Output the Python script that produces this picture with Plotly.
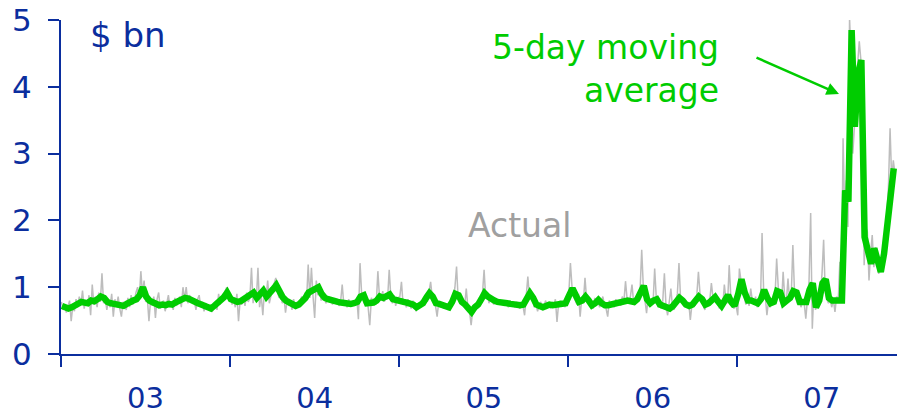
import pandas as pd
import plotly.graph_objects as go

# ---- data ($ bn) ----
years = [2003, 2004, 2005, 2006, 2007]
year_labels = ["03", "04", "05", "06", "07"]

# 5-day moving average, sampled weekly
ma_2003 = [0.72,0.70,0.68,0.70,0.72,0.75,0.78,0.77,0.76,0.80,0.79,0.82,0.86,0.84,0.78,0.76,0.75,0.74,0.73,0.72,0.75,0.79,0.80,0.82,0.88,1.00,0.86,0.80,0.77,0.74,0.73,0.74,0.73,0.75,0.74,0.77,0.79,0.82,0.84,0.83,0.80,0.78,0.76,0.74,0.72,0.70,0.68,0.72,0.76,0.80,0.85,0.92]
ma_2004 = [0.82,0.80,0.78,0.79,0.83,0.84,0.90,0.92,0.84,0.88,0.95,0.86,0.90,0.97,1.03,0.93,0.85,0.80,0.77,0.75,0.72,0.74,0.78,0.84,0.92,0.95,0.98,1.00,0.90,0.84,0.82,0.80,0.79,0.78,0.77,0.76,0.76,0.75,0.76,0.78,0.86,0.88,0.76,0.76,0.77,0.80,0.86,0.84,0.88,0.89,0.82,0.80]
ma_2005 = [0.80,0.78,0.77,0.76,0.74,0.70,0.74,0.76,0.84,0.91,0.86,0.76,0.75,0.74,0.72,0.70,0.78,0.90,0.88,0.78,0.74,0.68,0.63,0.70,0.74,0.82,0.91,0.86,0.82,0.80,0.78,0.78,0.76,0.76,0.75,0.74,0.75,0.73,0.74,0.82,0.91,0.84,0.74,0.72,0.70,0.72,0.74,0.73,0.74,0.75,0.74,0.76]
ma_2006 = [0.88,0.98,0.88,0.78,0.80,0.86,0.80,0.73,0.76,0.81,0.76,0.73,0.73,0.74,0.76,0.76,0.78,0.80,0.80,0.79,0.78,0.82,0.95,1.02,0.82,0.76,0.80,0.82,0.74,0.72,0.70,0.68,0.72,0.78,0.84,0.80,0.74,0.72,0.74,0.80,0.86,0.82,0.74,0.76,0.82,0.85,0.78,0.72,0.80,0.88,0.78,0.72]
ma_2007 = [0.90,1.12,0.92,0.80,0.80,0.79,0.76,0.82,0.96,0.84,0.76,0.78,0.94,0.92,0.76,0.80,0.84,0.94,0.92,0.78,0.78,0.78,0.96,1.06,0.70,0.80,1.06,1.12,0.84,0.80,0.80,0.79,0.80,2.45,2.28,4.85,3.40,4.20,4.40,1.75,1.50,1.35,1.58,1.35,1.23,1.50,1.95,2.50,2.78]

# Actual daily values, sampled twice a week
act_2003 = [0.78,0.66,0.74,0.62,0.70,0.80,0.49,0.72,0.64,0.82,
            0.70,0.86,0.74,0.95,0.68,0.80,0.72,0.88,0.58,1.04,
            0.74,0.86,0.70,0.92,0.78,1.21,0.76,0.84,0.66,0.80,
            0.70,0.90,0.56,0.82,0.72,0.86,0.68,0.56,0.78,0.74,
            0.66,0.84,0.70,0.88,0.74,0.80,0.92,1.00,0.82,1.24,
            0.90,1.10,0.78,0.84,0.49,0.80,0.72,0.86,0.54,0.82,
            0.92,0.68,0.74,0.80,0.64,0.78,0.88,0.70,0.76,0.66,
            0.84,0.72,0.78,0.86,0.70,1.00,0.82,1.00,0.76,0.88,
            0.84,0.76,0.80,0.66,0.82,0.88,0.70,0.78,0.64,0.76,
            0.72,0.66,0.74,0.63,0.70,0.78,0.66,0.90,0.74,0.86,
            0.80,0.94,1.00,0.86]
act_2004 = [0.88,0.74,0.82,0.70,0.90,0.49,0.80,0.74,0.86,0.72,
            0.92,0.78,0.84,1.29,0.76,0.94,0.82,1.29,0.70,0.88,
            0.58,0.96,0.84,1.10,0.76,0.90,0.98,1.06,1.14,0.94,
            0.84,0.90,0.76,0.86,0.62,0.80,0.72,0.78,0.66,0.82,
            0.70,0.78,0.74,0.80,0.86,0.76,0.92,0.80,1.34,0.84,
            1.29,0.86,0.54,1.10,0.88,0.96,0.80,0.90,0.82,0.76,
            0.86,0.78,0.84,0.74,0.82,0.76,0.80,0.72,0.78,1.04,
            0.74,0.78,0.70,0.82,0.76,0.72,0.80,0.74,0.84,0.52,
            1.36,0.90,0.80,0.74,0.82,0.70,0.43,0.84,0.78,0.82,
            0.74,1.24,0.86,0.80,0.94,0.78,0.90,0.82,1.26,0.86,
            0.76,0.88,0.72,0.84]
act_2005 = [0.86,1.08,0.74,0.80,0.70,0.82,0.76,0.68,0.80,0.72,
            0.64,0.76,0.70,0.80,0.74,0.82,0.90,0.78,0.96,1.08,
            0.84,0.80,0.72,0.56,0.78,0.70,0.76,0.68,0.74,0.70,
            0.66,0.76,0.84,0.80,1.00,1.31,0.82,0.90,0.76,0.82,
            0.72,0.98,0.70,0.64,0.43,0.66,0.74,0.68,0.78,0.72,
            0.80,0.90,1.26,0.84,0.92,0.76,0.86,0.80,0.74,0.84,
            0.78,0.82,0.74,0.80,0.72,0.78,0.76,0.70,0.80,0.72,
            0.76,0.70,0.78,0.72,0.68,0.76,0.72,0.58,0.90,1.16,
            0.84,0.94,0.80,0.70,0.76,0.64,0.72,0.78,0.66,0.74,
            0.80,0.70,0.76,0.68,0.78,0.72,0.82,0.48,0.76,0.80,
            0.72,0.78,0.70,0.84]
act_2006 = [0.90,1.36,1.00,0.86,0.80,0.74,0.90,0.56,0.84,0.78,
            1.14,0.82,0.78,0.72,0.80,0.68,0.84,0.74,0.80,0.70,
            0.78,0.86,0.74,0.68,0.56,0.80,0.72,0.78,0.70,0.82,
            0.76,0.80,0.72,0.86,0.78,1.09,0.82,0.76,0.86,1.04,
            0.78,0.74,0.88,0.80,0.96,1.56,1.00,0.80,0.61,0.86,
            0.74,0.82,0.76,1.28,0.84,0.70,0.78,0.68,0.80,1.21,
            0.72,0.58,0.76,0.98,0.70,0.66,0.80,0.90,1.36,0.82,
            0.76,0.72,0.80,0.70,0.78,0.51,0.74,0.80,0.72,0.88,
            1.23,0.90,0.80,0.74,0.66,0.78,0.72,0.80,1.06,0.84,
            0.88,0.80,0.74,0.68,0.76,0.70,1.04,0.82,0.76,1.33,
            0.86,0.72,0.68,0.76]
act_2007 = [0.58,1.28,1.10,0.98,0.86,0.74,0.82,0.72,0.98,0.80,
            0.74,0.86,0.70,0.82,0.76,1.81,0.92,0.86,0.58,0.80,
            0.70,0.82,0.76,0.86,1.43,1.00,0.80,0.74,1.23,0.84,
            0.78,1.13,0.80,0.86,1.63,0.94,0.82,0.74,0.86,0.70,
            0.80,0.76,0.53,0.90,1.10,2.11,0.38,0.96,0.66,0.80,
            0.74,0.90,1.20,1.71,0.92,0.82,0.76,0.84,0.70,0.82,
            0.63,0.86,0.78,1.38,0.84,3.23,2.10,2.60,1.90,5.03,
            4.40,3.00,3.40,4.00,4.30,4.68,4.40,3.80,1.33,1.90,
            1.83,1.10,1.50,1.78,1.30,1.60,1.40,1.20,1.45,1.30,
            1.50,1.70,2.10,2.50,3.38,2.60,2.90,2.70]

ma_by_year = [ma_2003, ma_2004, ma_2005, ma_2006, ma_2007]
act_by_year = [act_2003, act_2004, act_2005, act_2006, act_2007]

# ---- build series ----
act_x, act_y, ma_x, ma_y = [], [], [], []
for yr, a, m in zip(years, act_by_year, ma_by_year):
    act_x += list(pd.date_range(f"{yr}-01-02", periods=len(a), freq="84h"))
    act_y += a
    ma_x += list(pd.date_range(f"{yr}-01-03", periods=len(m), freq="7D"))
    ma_y += m

BLUE = "#0b2e9e"
GREEN = "#00cc00"
GREY = "#bdbdbd"
FONT = "DejaVu Sans"

L, R, T, B = 61, 2, 20, 64
W, H = 899, 418
PW, PH = W - L - R, H - T - B


def px(x):
    return (x - L) / PW


def py(y):
    return (H - B - y) / PH


fig = go.Figure()
fig.add_trace(go.Scatter(x=act_x, y=act_y, mode="lines",
                         line=dict(color=GREY, width=1.5), hoverinfo="skip"))
fig.add_trace(go.Scatter(x=ma_x, y=ma_y, mode="lines",
                         line=dict(color=GREEN, width=6.5), hoverinfo="skip"))

fig.update_layout(
    width=W, height=H,
    margin=dict(l=L, r=R, t=T, b=B, autoexpand=False),
    paper_bgcolor="white", plot_bgcolor="white",
    showlegend=False,
    font=dict(family=FONT, color=BLUE, size=31),
)
fig.update_xaxes(
    type="date", automargin=False,
    range=["2003-01-01", "2007-12-12"],
    tick0="2003-01-01", dtick="M12",
    tickformat="%y", ticklabelmode="period",
    ticks="outside", ticklen=11, tickwidth=2, tickcolor=BLUE,
    showline=True, linecolor=BLUE, linewidth=2,
    showgrid=False, zeroline=False,
    tickfont=dict(family=FONT, size=29, color=BLUE),
    ticklabelstandoff=6,
)
fig.update_yaxes(
    range=[0, 5], tick0=0, dtick=1, automargin=False,
    ticks="outside", ticklen=11, tickwidth=2, tickcolor=BLUE,
    showline=True, linecolor=BLUE, linewidth=2,
    showgrid=False, zeroline=False,
    tickfont=dict(family=FONT, size=31, color=BLUE),
    ticklabelstandoff=10,
)

fig.add_annotation(text="$ bn", xref="paper", yref="paper",
                   x=px(88), y=py(35), xanchor="left", yanchor="middle",
                   showarrow=False, font=dict(family=FONT, size=34, color=BLUE))
fig.add_annotation(text="5-day moving", xref="paper", yref="paper",
                   x=px(721), y=py(47), xanchor="right", yanchor="middle",
                   showarrow=False, font=dict(family=FONT, size=33, color=GREEN))
fig.add_annotation(text="average", xref="paper", yref="paper",
                   x=px(721), y=py(90), xanchor="right", yanchor="middle",
                   showarrow=False, font=dict(family=FONT, size=33, color=GREEN))
fig.add_annotation(text="Actual", xref="paper", yref="paper",
                   x=px(519), y=py(225), xanchor="center", yanchor="middle",
                   showarrow=False, font=dict(family=FONT, size=33, color="#a0a0a0"))
fig.add_annotation(text="", xref="paper", yref="paper",
                   x=px(839), y=py(94),
                   ax=-84, ay=-37, showarrow=True,
                   arrowhead=2, arrowsize=1, arrowwidth=2.5, arrowcolor=GREEN)

fig.write_html("out.html",
               config={"displayModeBar": False},
               post_script="document.body.style.margin='0';document.body.style.overflow='hidden';")
